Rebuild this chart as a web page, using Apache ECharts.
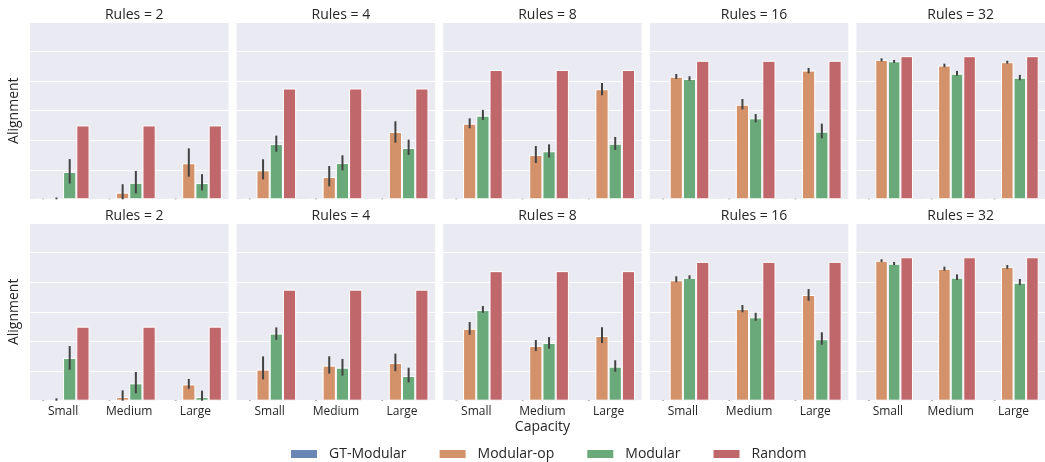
<!DOCTYPE html>
<html>
<head>
<meta charset="utf-8">
<script src="https://cdn.jsdelivr.net/npm/echarts@6/dist/echarts.min.js"></script>
<style>
  html, body { margin: 0; padding: 0; background: #fff; }
  #chart { width: 1045px; height: 462px; }
</style>
</head>
<body>
<div id="chart"></div>
<script>
const rules = [2, 4, 8, 16, 32]
const capacity = ['Small', 'Medium', 'Large']
const methods = ['GT-Modular', 'Modular-op', 'Modular', 'Random']
const colors = ['#6a86b5', '#d4926b', '#69a97a', '#c0676c']

// random baseline (same for every capacity)
const randomVals = [0.5, 0.75, 0.875, 0.9375, 0.96875]

// top row
const topModOp = [[0, 0.045, 0.244], [0.196, 0.151, 0.456], [0.512, 0.30, 0.745], [0.83, 0.64, 0.871], [0.943, 0.905, 0.928]]
const topModOpErr = [
  [[0, 0.012], [0, 0.102], [0.153, 0.345]],
  [[0.135, 0.271], [0.088, 0.225], [0.383, 0.528]],
  [[0.481, 0.548], [0.246, 0.361], [0.704, 0.787]],
  [[0.815, 0.848], [0.609, 0.679], [0.853, 0.889]],
  [[0.933, 0.954], [0.894, 0.918], [0.918, 0.938]]
]
const topMod = [[0.185, 0.112, 0.11], [0.374, 0.246, 0.347], [0.566, 0.325, 0.376], [0.815, 0.548, 0.458], [0.934, 0.85, 0.823]]
const topModErr = [
  [[0.107, 0.272], [0.04, 0.192], [0.06, 0.17]],
  [[0.322, 0.431], [0.196, 0.298], [0.30, 0.404]],
  [[0.537, 0.605], [0.282, 0.372], [0.334, 0.422]],
  [[0.803, 0.833], [0.521, 0.577], [0.413, 0.512]],
  [[0.923, 0.943], [0.837, 0.869], [0.806, 0.842]]
]

// bottom row
const botModOp = [[0, 0.025, 0.11], [0.21, 0.237, 0.255], [0.486, 0.37, 0.437], [0.813, 0.62, 0.714], [0.945, 0.891, 0.903]]
const botModOpErr = [
  [[0, 0.016], [0, 0.07], [0.081, 0.147]],
  [[0.144, 0.299], [0.183, 0.30], [0.199, 0.318]],
  [[0.445, 0.531], [0.335, 0.41], [0.39, 0.496]],
  [[0.80, 0.84], [0.597, 0.646], [0.675, 0.754]],
  [[0.937, 0.955], [0.878, 0.905], [0.891, 0.916]]
]
const botMod = [[0.288, 0.117, 0.025], [0.453, 0.223, 0.167], [0.612, 0.39, 0.23], [0.83, 0.563, 0.415], [0.925, 0.831, 0.797]]
const botModErr = [
  [[0.209, 0.369], [0.05, 0.194], [0, 0.068]],
  [[0.411, 0.495], [0.169, 0.282], [0.123, 0.223]],
  [[0.594, 0.639], [0.351, 0.43], [0.196, 0.273]],
  [[0.822, 0.847], [0.54, 0.594], [0.378, 0.462]],
  [[0.916, 0.937], [0.815, 0.853], [0.78, 0.822]]
]

const gtErr = [0, 0.005]

const textColor = '#262626'
const font = 'Open Sans'
const panelLeft = [30, 236.6, 443.2, 649.8, 856.4]
const panelWidth = 198.5
const rowTop = [22, 223]
const rowHeight = [177.3, 177.7]

const grids = [], xAxes = [], yAxes = [], titles = [], series = []

const rows = [
  { modOp: topModOp, modOpErr: topModOpErr, mod: topMod, modErr: topModErr },
  { modOp: botModOp, modOpErr: botModOpErr, mod: botMod, modErr: botModErr }
]

rows.forEach((row, r) => {
  rules.forEach((rule, c) => {
    const idx = r * 5 + c
    grids.push({
      left: panelLeft[c], top: rowTop[r], width: panelWidth, height: rowHeight[r],
      show: true, backgroundColor: '#eaeaf2', borderWidth: 0
    })
    titles.push({
      text: 'Rules = ' + rule,
      left: panelLeft[c] + panelWidth / 2, top: rowTop[r] - 19,
      textAlign: 'center',
      textStyle: { fontFamily: font, fontSize: 14, fontWeight: 'normal', color: textColor }
    })
    xAxes.push({
      type: 'category', gridIndex: idx, data: capacity,
      axisLine: { show: false }, axisTick: { show: false },
      axisLabel: { show: r === 1, color: textColor, fontFamily: font, fontSize: 12, margin: 5 },
      name: (r === 1 && c === 2) ? 'Capacity' : '',
      nameLocation: 'middle', nameGap: 19,
      nameTextStyle: { color: textColor, fontFamily: font, fontSize: 14 }
    })
    yAxes.push({
      type: 'value', gridIndex: idx, min: 0, max: 1.2, interval: 0.2,
      axisLine: { show: false }, axisTick: { show: false }, axisLabel: { show: false },
      splitLine: { lineStyle: { color: '#ffffff', width: 1 } },
      name: c === 0 ? 'Alignment' : '',
      nameLocation: 'middle', nameGap: 9, nameRotate: 90,
      nameTextStyle: { color: textColor, fontFamily: font, fontSize: 14 }
    })

    const vals = [
      [0, 0, 0],
      row.modOp[c],
      row.mod[c],
      [randomVals[c], randomVals[c], randomVals[c]]
    ]
    vals.forEach((v, h) => {
      series.push({
        name: methods[h], type: 'bar', xAxisIndex: idx, yAxisIndex: idx,
        data: v, barGap: '0%', barCategoryGap: '20%',
        itemStyle: { color: colors[h], borderColor: '#ffffff', borderWidth: 1 },
        emphasis: { disabled: true }, silent: true
      })
    })

    // error bars: [category, lo, hi, hue]
    const errData = []
    capacity.forEach((cap, k) => {
      errData.push([k, gtErr[0], gtErr[1], 0])
      errData.push([k, row.modOpErr[c][k][0], row.modOpErr[c][k][1], 1])
      errData.push([k, row.modErr[c][k][0], row.modErr[c][k][1], 2])
    })
    series.push({
      type: 'custom', xAxisIndex: idx, yAxisIndex: idx, z: 5, silent: true,
      data: errData,
      encode: { x: 0, y: [1, 2] },
      renderItem: (params, api) => {
        const k = api.value(0), lo = api.value(1), hi = api.value(2), h = api.value(3)
        const band = api.size([1, 0])[0]
        const p1 = api.coord([k, lo])
        const p2 = api.coord([k, hi])
        const x = p1[0] + (h - 1.5) * band * 0.2
        return {
          type: 'line',
          shape: { x1: x, y1: p1[1], x2: x, y2: p2[1] },
          style: { stroke: h === 0 ? '#9a9a9a' : '#424242', lineWidth: 2 }
        }
      }
    })
  })
})

const chart = echarts.init(document.getElementById('chart'), null, { renderer: 'canvas' })
chart.setOption({
  animation: false,
  backgroundColor: '#ffffff',
  title: titles,
  grid: grids,
  xAxis: xAxes,
  yAxis: yAxes,
  legend: {
    data: methods, left: 289, top: 447, padding: 0,
    itemWidth: 28, itemHeight: 10, itemGap: 31,
    icon: 'rect',
    textStyle: { color: textColor, fontFamily: font, fontSize: 14, padding: [0, 0, 0, 6] }
  },
  series: series
})
</script>
</body>
</html>
